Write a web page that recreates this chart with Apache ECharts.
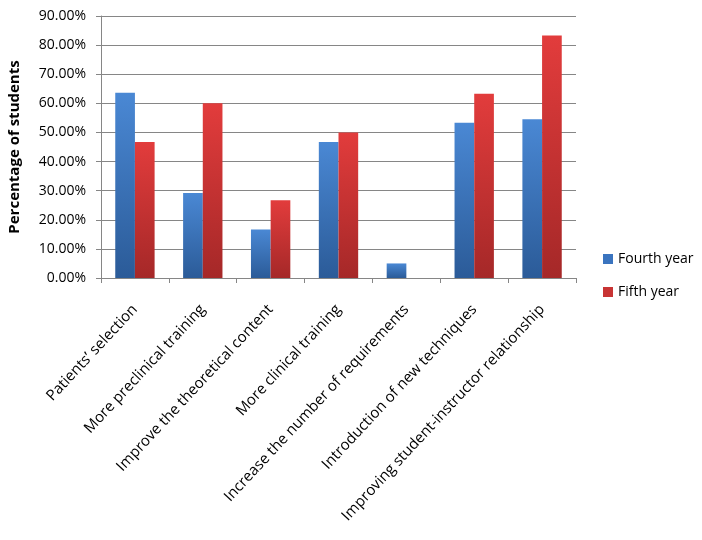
<!DOCTYPE html>
<html><head><meta charset="utf-8">
<script src="https://cdn.jsdelivr.net/npm/echarts@6/dist/echarts.min.js"></script>
<style>html,body{margin:0;padding:0;background:#fff}#c{width:702px;height:540px}</style>
</head><body><div id="c"></div>
<script>
const categories = ["Patients’ selection","More preclinical training","Improve the theoretical content","More clinical training","Increase the number of requirements","Introduction of new techniques","Improving student-instructor relationship"];
const fourthYear = [63.6, 29.2, 16.7, 46.7, 5.0, 53.3, 54.5];
const fifthYear = [46.7, 60.0, 26.7, 50.0, 0, 63.3, 83.3];
const yTicks = {min:0, max:90, interval:10};
const FONT = "Open Sans";
const grad = (a,b)=>new echarts.graphic.LinearGradient(0,0,0,1,[{offset:0,color:a},{offset:1,color:b}]);
const chart = echarts.init(document.getElementById('c'));
chart.setOption({
  animation:false,
  grid:{left:101,right:126,top:16,bottom:262,containLabel:false,outerBoundsMode:'none'},
  legend:{orient:'vertical',left:598,top:247,itemWidth:10,itemHeight:10,itemGap:19,icon:'rect',
    textStyle:{fontFamily:FONT,fontSize:14,color:'#000'},
    data:[{name:'Fourth year',itemStyle:{color:'#3a74bf'}},{name:'Fifth year',itemStyle:{color:'#c83434'}}]},
  xAxis:{type:'category',data:categories,
    axisLine:{lineStyle:{color:'#868686'}},
    axisTick:{show:true,length:5,lineStyle:{color:'#868686'}},
    axisLabel:{rotate:47,fontFamily:FONT,fontSize:15,color:'#000',margin:29,interval:0}},
  yAxis:{type:'value',min:yTicks.min,max:yTicks.max,interval:yTicks.interval,
    name:'Percentage of students',nameLocation:'middle',nameGap:79,
    nameTextStyle:{fontFamily:FONT,fontSize:15,fontWeight:'bold',color:'#000'},
    axisLine:{show:true,lineStyle:{color:'#868686'}},
    axisTick:{show:true,length:5,lineStyle:{color:'#868686'}},
    splitLine:{lineStyle:{color:'#868686'}},
    axisLabel:{fontFamily:FONT,fontSize:14,color:'#000',margin:15,formatter:v=>v.toFixed(2)+'%'}},
  series:[
    {name:'Fourth year',type:'bar',data:fourthYear,barGap:'0%',barCategoryGap:'42%',
     itemStyle:{color:grad('#4a88d4','#2b5b98')}},
    {name:'Fifth year',type:'bar',data:fifthYear,
     itemStyle:{color:grad('#e23c3c','#a52828')}}
  ]
});
</script></body></html>
